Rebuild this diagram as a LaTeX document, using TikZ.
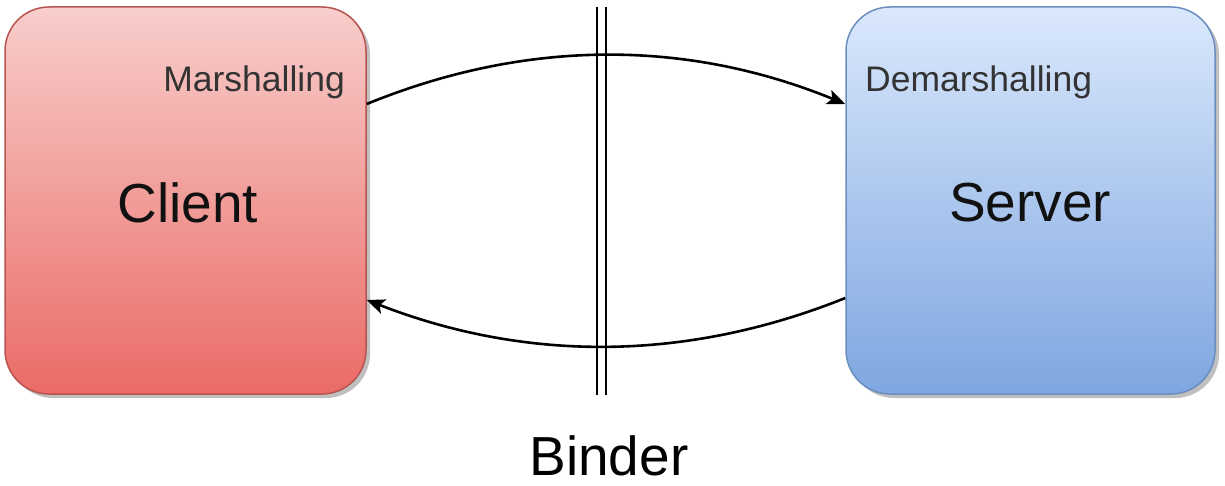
\documentclass[tikz,border=0pt]{standalone}
\usepackage{fontspec}
\setmainfont{Liberation Sans}
\usetikzlibrary{shadows,arrows.meta}
\definecolor{redtop}{HTML}{F8CECC}
\definecolor{redbot}{HTML}{EA6B66}
\definecolor{redline}{HTML}{B85450}
\definecolor{bluetop}{HTML}{DAE8FC}
\definecolor{bluebot}{HTML}{7EA6E0}
\definecolor{blueline}{HTML}{6C8EBF}
\definecolor{smalltext}{HTML}{333333}
\definecolor{bigtext}{HTML}{111111}
\tikzset{
  box/.style={rounded corners=44pt, minimum height=387pt,
    inner sep=0pt, line width=1.5pt,
    drop shadow={shadow xshift=4pt, shadow yshift=-4pt, fill=black!25, opacity=1}},
  bigtxt/.style={font=\fontsize{55}{60}\selectfont, text=bigtext, inner sep=0pt},
  smalltxt/.style={font=\fontsize{35.5}{40}\selectfont, text=smalltext, inner sep=0pt},
  conn/.style={line width=2.6pt, -{Stealth[length=18pt,width=15pt,inset=4pt]}},
  binderline/.style={line width=2.6pt}
}
\begin{document}
\begin{tikzpicture}[x=1pt,y=-1pt]
\useasboundingbox (0,0) rectangle (1225,486);
\node[box, minimum width=361pt, draw=redline, top color=redtop, bottom color=redbot] (client) at (185.5,200.5) {};
\node[box, minimum width=369pt, draw=blueline, top color=bluetop, bottom color=bluebot] (server) at (1030.5,200.5) {};
\node[bigtxt] (clientlbl) at (188,203) {Client};
\node[bigtxt] (serverlbl) at (1030,203) {Server};
\node[bigtxt, text=black] (binderlbl) at (609,456) {Binder};
\node[smalltxt, anchor=base east] (marsh) at (345,92) {Marshalling};
\node[smalltxt, anchor=base west] (demarsh) at (865,92) {Demarshalling};
\coordinate (b1top) at (597,7);
\coordinate (b1bot) at (597,395);
\coordinate (b2top) at (606,7);
\coordinate (b2bot) at (606,395);
\draw[binderline] (b1top) -- (b1bot);
\draw[binderline] (b2top) -- (b2bot);
\coordinate (c1) at (client.east |- 0,104);
\coordinate (s1) at (server.west |- 0,104);
\coordinate (s2) at (server.west |- 0,298);
\coordinate (c2) at (client.east |- 0,300);
\draw[conn] (c1) .. controls (526,39) and (686,39) .. (s1);
\draw[conn] (s2) .. controls (686,362) and (526,362) .. (c2);
\end{tikzpicture}
\end{document}
